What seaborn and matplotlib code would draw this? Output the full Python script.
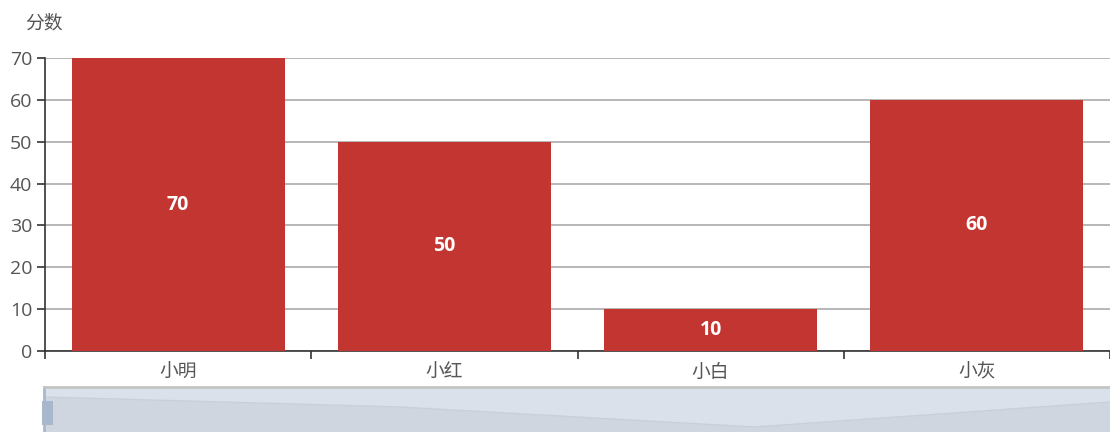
import matplotlib
matplotlib.use("Agg")
import matplotlib.pyplot as plt
import seaborn as sns
import pandas as pd
from matplotlib.patches import Rectangle

names = ["小明", "小红", "小白", "小灰"]
scores = [70, 50, 10, 60]
y_ticks = [0, 10, 20, 30, 40, 50, 60, 70]
axis_name = "分数"

df = pd.DataFrame({"name": names, "score": scores})

sns.set_theme(style="white")
plt.rcParams["font.family"] = ["Open Sans", "Noto Sans CJK SC", "DejaVu Sans"]

W, H = 1110, 432
fig = plt.figure(figsize=(W / 100, H / 100), dpi=100)
ax = fig.add_axes([45 / W, (H - 351) / H, (W - 45) / W, 293 / H])

sns.barplot(data=df, x="name", y="score", color="#c23531", saturation=1,
            width=0.8, ax=ax, zorder=3, edgecolor="none")

ax.set_ylim(0, 70)
ax.set_xlim(-0.5, len(names) - 0.5)
ax.set_yticks(y_ticks)
ax.set_yticklabels([str(t) for t in y_ticks])
ax.grid(axis="y", color="#aaaaaa", linewidth=1.2, zorder=0)
ax.set_axisbelow(True)

for s in ["top", "right"]:
    ax.spines[s].set_visible(False)
for s in ["left", "bottom"]:
    ax.spines[s].set_color("#333333")
    ax.spines[s].set_linewidth(1.2)

ax.tick_params(axis="y", length=6, width=1.2, color="#333333", labelcolor="#555555",
               labelsize=14, pad=3, left=True)
ax.set_xticks(range(len(names)))
ax.set_xticklabels(names)
ax.tick_params(axis="x", length=0, labelcolor="#555555", labelsize=13.5, pad=9)
# category boundary ticks
ax.set_xticks([i - 0.5 for i in range(len(names) + 1)], minor=True)
ax.tick_params(axis="x", which="minor", length=6, width=1.2, color="#333333", bottom=True)
ax.set_xlabel("")
ax.set_ylabel("")

for i, v in enumerate(scores):
    ax.text(i, v / 2, str(v), ha="center", va="center", color="white",
            fontsize=14, fontweight="bold", zorder=5)

fig.text(25 / W, 1 - 23 / H, axis_name, ha="left", va="center", color="#555555", fontsize=13.5)

# data zoom slider
sax = fig.add_axes([44 / W, 0, (W - 44) / W, 45 / H])
sax.set_xlim(0, len(scores) - 1)
sax.set_ylim(0, 90)
xs = list(range(len(scores)))
sax.axhspan(0, 90, color="#dbe1ea", zorder=0)
sax.fill_between(xs, 0, scores, color="#cfd6e0", zorder=1, linewidth=0)
sax.plot(xs, scores, color="#c6cfdb", linewidth=1, zorder=2)
sax.set_xticks([])
sax.set_yticks([])
for s in ["right", "bottom"]:
    sax.spines[s].set_visible(False)
sax.spines["top"].set_color("#c4c4c4")
sax.spines["top"].set_linewidth(2)
sax.spines["left"].set_color("#a9b8cc")
sax.spines["left"].set_linewidth(2)
fig.patches.append(Rectangle((42 / W, (H - 425) / H), 11 / W, 24 / H,
                             transform=fig.transFigure, facecolor="#a7b7cc",
                             edgecolor="none", zorder=5))
for yy in (410, 417):
    fig.lines.append(plt.Line2D([45 / W, 50 / W], [(H - yy) / H] * 2,
                                transform=fig.transFigure, color="#e0e6ee", linewidth=1))

fig.savefig("out.png", dpi=100)
